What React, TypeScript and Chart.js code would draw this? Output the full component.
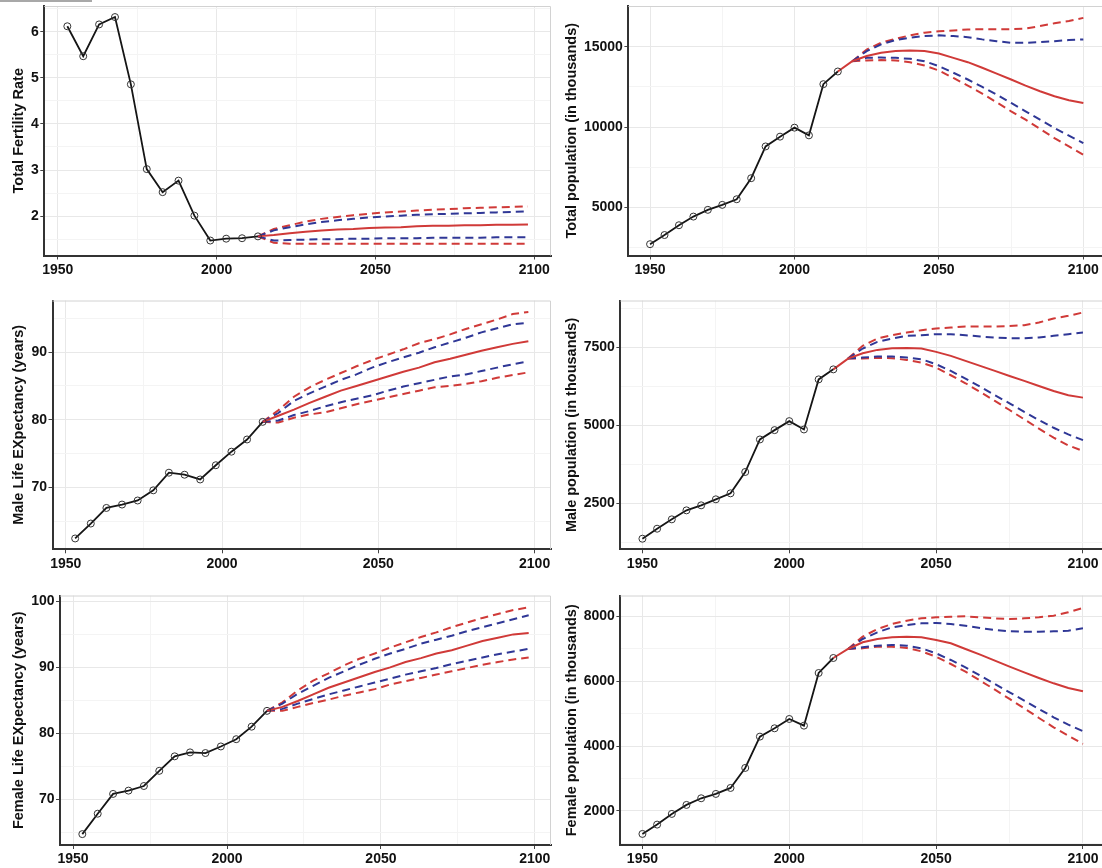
import React, { useEffect, useRef } from 'react';
import { Chart, registerables } from 'chart.js';

Chart.register(...registerables);

// years
const obsYearsLE = [1953, 1958, 1963, 1968, 1973, 1978, 1983, 1988, 1993, 1998, 2003, 2008, 2013];
const projYearsLE = [2013, 2018, 2023, 2028, 2033, 2038, 2043, 2048, 2053, 2058, 2063, 2068, 2073, 2078, 2083, 2088, 2093, 2098];
const obsYearsPop = [1950, 1955, 1960, 1965, 1970, 1975, 1980, 1985, 1990, 1995, 2000, 2005, 2010, 2015];
const medYearsPop = [2015, 2020, 2025, 2030, 2035, 2040, 2045, 2050, 2055, 2060, 2065, 2070, 2075, 2080, 2085, 2090, 2095, 2100];
const piYearsPop = [2020, 2025, 2030, 2035, 2040, 2045, 2050, 2055, 2060, 2065, 2070, 2075, 2080, 2085, 2090, 2095, 2100];

// total fertility rate
const tfrObs = [6.12, 5.47, 6.16, 6.32, 4.86, 3.02, 2.52, 2.77, 2.01, 1.47, 1.51, 1.52, 1.56];
const tfrMedian = [1.56, 1.59, 1.63, 1.66, 1.69, 1.71, 1.72, 1.74, 1.75, 1.76, 1.78, 1.79, 1.79, 1.80, 1.80, 1.81, 1.81, 1.82];
const tfrHi95 = [1.56, 1.72, 1.80, 1.88, 1.94, 1.98, 2.02, 2.05, 2.08, 2.10, 2.12, 2.14, 2.15, 2.17, 2.18, 2.19, 2.20, 2.21];
const tfrHi80 = [1.56, 1.69, 1.76, 1.82, 1.87, 1.91, 1.94, 1.97, 1.99, 2.01, 2.03, 2.04, 2.05, 2.06, 2.07, 2.08, 2.09, 2.10];
const tfrLo80 = [1.56, 1.47, 1.48, 1.49, 1.50, 1.50, 1.51, 1.51, 1.52, 1.52, 1.52, 1.53, 1.53, 1.53, 1.53, 1.54, 1.54, 1.54];
const tfrLo95 = [1.56, 1.42, 1.40, 1.40, 1.40, 1.40, 1.40, 1.40, 1.40, 1.40, 1.40, 1.40, 1.40, 1.40, 1.40, 1.40, 1.40, 1.40];

// male life expectancy
const maleLeObs = [62.5, 64.7, 67.0, 67.5, 68.1, 69.6, 72.2, 71.9, 71.2, 73.3, 75.3, 77.1, 79.7];
const maleLeMedian = [79.7, 80.6, 81.5, 82.5, 83.4, 84.3, 85.0, 85.7, 86.4, 87.1, 87.7, 88.5, 89.0, 89.6, 90.2, 90.7, 91.2, 91.6];
const maleLeHi95 = [79.7, 81.4, 83.4, 84.8, 85.9, 86.9, 87.9, 88.8, 89.6, 90.4, 91.3, 91.9, 92.6, 93.4, 94.1, 94.8, 95.6, 95.9];
const maleLeHi80 = [79.7, 81.0, 82.8, 83.9, 84.9, 85.9, 86.7, 87.7, 88.5, 89.2, 89.9, 90.7, 91.4, 92.1, 92.9, 93.5, 94.1, 94.3];
const maleLeLo80 = [79.7, 79.9, 80.7, 81.3, 82.0, 82.6, 83.1, 83.6, 84.3, 84.9, 85.4, 85.9, 86.4, 86.7, 87.2, 87.7, 88.2, 88.6];
const maleLeLo95 = [79.7, 79.6, 80.3, 80.8, 81.1, 81.7, 82.3, 82.8, 83.3, 83.8, 84.3, 84.8, 85.0, 85.3, 85.7, 86.2, 86.6, 87.0];

// female life expectancy
const femLeObs = [64.7, 67.8, 70.8, 71.3, 72.0, 74.3, 76.5, 77.1, 77.0, 78.0, 79.1, 81.0, 83.4];
const femLeMedian = [83.4, 84.0, 84.9, 85.9, 86.9, 87.7, 88.5, 89.3, 90.0, 90.8, 91.4, 92.1, 92.6, 93.3, 94.0, 94.5, 95.0, 95.2];
const femLeHi95 = [83.4, 84.7, 86.5, 88.0, 89.1, 90.3, 91.3, 92.1, 93.0, 93.8, 94.6, 95.3, 96.1, 96.8, 97.5, 98.1, 98.7, 99.1];
const femLeHi80 = [83.4, 84.5, 86.0, 87.2, 88.4, 89.4, 90.4, 91.3, 92.1, 92.8, 93.6, 94.2, 94.8, 95.5, 96.1, 96.7, 97.3, 97.9];
const femLeLo80 = [83.4, 83.7, 84.5, 85.2, 85.9, 86.5, 87.1, 87.7, 88.3, 88.9, 89.4, 89.9, 90.5, 91.0, 91.5, 92.0, 92.4, 92.8];
const femLeLo95 = [83.4, 83.4, 84.0, 84.6, 85.1, 85.7, 86.2, 86.7, 87.4, 87.9, 88.4, 88.9, 89.4, 89.9, 90.4, 90.8, 91.2, 91.5];

// total population (thousands)
const totPopObs = [2700, 3270, 3880, 4420, 4840, 5150, 5500, 6810, 8790, 9400, 9960, 9480, 12670, 13460];
const totPopMedian = [13460, 14100, 14420, 14630, 14730, 14770, 14730, 14580, 14310, 14040, 13690, 13330, 12960, 12580, 12230, 11920, 11670, 11500];
const totPopHi95 = [14100, 14830, 15250, 15500, 15710, 15880, 15960, 16020, 16080, 16090, 16090, 16100, 16130, 16290, 16460, 16600, 16800];
const totPopHi80 = [14100, 14730, 15150, 15420, 15560, 15670, 15710, 15670, 15600, 15460, 15350, 15250, 15250, 15290, 15350, 15420, 15460];
const totPopLo80 = [14100, 14310, 14330, 14310, 14250, 14100, 13790, 13380, 12960, 12500, 12020, 11500, 10980, 10460, 9940, 9460, 9000];
const totPopLo95 = [14100, 14150, 14170, 14150, 14040, 13830, 13520, 13060, 12580, 12080, 11540, 10980, 10460, 9880, 9310, 8790, 8270];

// male population (thousands)
const malePopObs = [1365, 1686, 1986, 2275, 2436, 2629, 2821, 3506, 4550, 4850, 5139, 4871, 6478, 6800];
const malePopMedian = [6800, 7146, 7318, 7425, 7479, 7489, 7468, 7361, 7232, 7071, 6911, 6750, 6589, 6429, 6268, 6107, 5968, 5893];
const malePopHi95 = [7146, 7554, 7789, 7896, 7982, 8057, 8111, 8143, 8175, 8180, 8175, 8190, 8218, 8303, 8432, 8518, 8625];
const malePopHi80 = [7146, 7468, 7682, 7789, 7875, 7896, 7929, 7929, 7896, 7854, 7821, 7800, 7800, 7821, 7875, 7929, 7982];
const malePopLo80 = [7146, 7179, 7211, 7211, 7179, 7125, 6964, 6750, 6504, 6246, 5968, 5711, 5434, 5171, 4925, 4711, 4529];
const malePopLo95 = [7146, 7146, 7168, 7157, 7104, 7018, 6857, 6611, 6354, 6075, 5786, 5496, 5196, 4896, 4607, 4361, 4179];

// female population (thousands)
const femPopObs = [1287, 1575, 1905, 2183, 2388, 2522, 2707, 3325, 4292, 4549, 4837, 4631, 6257, 6720];
const femPopMedian = [6720, 6998, 7204, 7307, 7358, 7379, 7358, 7276, 7173, 6998, 6823, 6638, 6453, 6278, 6103, 5938, 5794, 5691];
const femPopHi95 = [6998, 7379, 7616, 7770, 7873, 7945, 7976, 7996, 8007, 7976, 7945, 7924, 7945, 7976, 8027, 8130, 8264];
const femPopHi80 = [6998, 7307, 7513, 7667, 7739, 7790, 7801, 7770, 7718, 7646, 7585, 7544, 7533, 7533, 7544, 7564, 7636];
const femPopLo80 = [6998, 7050, 7101, 7122, 7101, 7019, 6864, 6659, 6432, 6175, 5918, 5660, 5403, 5146, 4889, 4662, 4457];
const femPopLo95 = [6998, 7019, 7070, 7070, 7029, 6926, 6761, 6535, 6298, 6021, 5743, 5455, 5167, 4868, 4580, 4323, 4066];

// tick labels
const xMajor = [1950, 2000, 2050, 2100];
const xMinor = [1975, 2025, 2075];
const tfrMajor = [2, 3, 4, 5, 6];
const tfrMinor = [1.5, 2.5, 3.5, 4.5, 5.5, 6.5];
const leMaleMajor = [70, 80, 90];
const leMaleMinor = [65, 75, 85, 95];
const leFemMajor = [70, 80, 90, 100];
const leFemMinor = [65, 75, 85, 95];
const totPopMajor = [5000, 10000, 15000];
const totPopMinor = [2500, 7500, 12500, 17500];
const malePopMajor = [2500, 5000, 7500];
const malePopMinor = [1250, 3750, 6250, 8750];
const femPopMajor = [2000, 4000, 6000, 8000];
const femPopMinor = [1000, 3000, 5000, 7000];

const RED = '#d03a38';
const BLUE = '#2f3796';
const FONT = '"Liberation Sans", Arial, sans-serif';

const zip = (xs: number[], ys: number[]) => xs.map((x, i) => ({ x, y: ys[i] }));

const frame = {
  id: 'frame',
  beforeDatasetsDraw(chart: any) {
    const { ctx, chartArea: a } = chart;
    ctx.save();
    ctx.strokeStyle = '#d2d2d2';
    ctx.lineWidth = 1;
    ctx.beginPath();
    ctx.moveTo(a.left, a.top + 0.5);
    ctx.lineTo(a.right - 0.5, a.top + 0.5);
    ctx.lineTo(a.right - 0.5, a.bottom);
    ctx.stroke();
    ctx.restore();
  },
};

type Box = { left: number; top: number; width: number; height: number; pl: number; pt: number; pr: number; pb: number; titleGap: number };

type PanelProps = {
  title: string;
  obsYears: number[];
  obs: number[];
  medYears: number[];
  median: number[];
  piYears: number[];
  hi95: number[];
  hi80: number[];
  lo80: number[];
  lo95: number[];
  xMin: number;
  xMax: number;
  yMin: number;
  yMax: number;
  yMajor: number[];
  yMinor: number[];
  box: Box;
};

function Panel(p: PanelProps) {
  const ref = useRef<HTMLCanvasElement>(null);

  useEffect(() => {
    if (!ref.current) return;
    const b = p.box;
    const yWidth = b.pl - b.left;
    const xHeight = b.top + b.height - b.pb;
    const tickFont = { family: FONT, size: 14, weight: 'bold' as const };

    const dashed = (data: number[], color: string, order: number) => ({
      data: zip(p.piYears, data),
      borderColor: color,
      borderWidth: 2,
      borderDash: [8, 5],
      pointRadius: 0,
      fill: false,
      order,
    });

    const chart = new Chart(ref.current, {
      type: 'line',
      data: {
        datasets: [
          {
            data: zip(p.obsYears, p.obs),
            borderColor: '#151515',
            borderWidth: 1.8,
            pointRadius: 3.5,
            pointBorderWidth: 1,
            pointBorderColor: '#333',
            pointBackgroundColor: 'rgba(0,0,0,0)',
            order: 0,
          },
          {
            data: zip(p.medYears, p.median),
            borderColor: RED,
            borderWidth: 2,
            pointRadius: 0,
            order: 1,
          },
          dashed(p.hi80, BLUE, 2),
          dashed(p.lo80, BLUE, 2),
          dashed(p.hi95, RED, 3),
          dashed(p.lo95, RED, 3),
        ] as any,
      },
      options: {
        animation: false,
        responsive: false,
        maintainAspectRatio: false,
        layout: { padding: { top: b.pt - b.top, right: b.left + b.width - b.pr, left: 0, bottom: 0 } },
        plugins: { legend: { display: false }, tooltip: { enabled: false } },
        scales: {
          x: {
            type: 'linear',
            min: p.xMin,
            max: p.xMax,
            afterBuildTicks: (s: any) => {
              s.ticks = [...xMajor, ...xMinor].sort((a, c) => a - c).map((v) => ({ value: v }));
            },
            afterFit: (s: any) => {
              s.height = xHeight;
              s.paddingLeft = 0;
              s.paddingRight = 0;
            },
            ticks: {
              autoSkip: false,
              maxRotation: 0,
              padding: 2,
              color: '#111',
              font: tickFont,
              callback: (v: any) => (xMajor.includes(v) ? String(v) : ''),
            },
            grid: {
              color: (c: any) => (xMajor.includes(c.tick?.value) ? '#e8e8e8' : '#f4f4f4'),
              tickColor: (c: any) => (xMajor.includes(c.tick?.value) ? '#444' : 'rgba(0,0,0,0)'),
              tickLength: 4,
              lineWidth: 1,
            },
            border: { display: true, color: '#333', width: 2 },
          },
          y: {
            type: 'linear',
            min: p.yMin,
            max: p.yMax,
            afterBuildTicks: (s: any) => {
              s.ticks = [...p.yMajor, ...p.yMinor].sort((a, c) => a - c).map((v) => ({ value: v }));
            },
            afterFit: (s: any) => {
              s.width = yWidth;
              s.paddingTop = 0;
              s.paddingBottom = 0;
            },
            ticks: {
              autoSkip: false,
              padding: 1.5,
              color: '#111',
              font: tickFont,
              callback: (v: any) => (p.yMajor.includes(v) ? String(v) : ''),
            },
            grid: {
              color: (c: any) => (p.yMajor.includes(c.tick?.value) ? '#e8e8e8' : '#f4f4f4'),
              tickColor: (c: any) => (p.yMajor.includes(c.tick?.value) ? '#444' : 'rgba(0,0,0,0)'),
              tickLength: 4,
              lineWidth: 1,
            },
            border: { display: true, color: '#333', width: 2 },
            title: {
              display: true,
              text: p.title,
              color: '#111',
              font: { family: FONT, size: 14.5, weight: 'bold' },
              padding: { top: b.titleGap, bottom: 0 },
            },
          },
        },
      } as any,
      plugins: [frame],
    });

    return () => chart.destroy();
  }, []);

  const b = p.box;
  return (
    <canvas
      ref={ref}
      width={b.width}
      height={b.height}
      style={{ position: 'absolute', left: b.left, top: b.top, width: b.width, height: b.height }}
    />
  );
}

export default function App() {
  return (
    <div style={{ position: 'absolute', left: 0, top: 0, width: 1102, height: 868, overflow: 'hidden', background: '#fff' }}>
      <div style={{ position: 'absolute', left: 0, top: 0, width: 92, height: 2, background: '#a8a8a8' }} />
      <Panel
        title="Total Fertility Rate"
        obsYears={obsYearsLE} obs={tfrObs}
        medYears={projYearsLE} median={tfrMedian}
        piYears={projYearsLE} hi95={tfrHi95} hi80={tfrHi80} lo80={tfrLo80} lo95={tfrLo95}
        xMin={1945.75} xMax={2105.25} yMin={1.145} yMax={6.56}
        yMajor={tfrMajor} yMinor={tfrMinor}
        box={{ left: 0, top: 0, width: 556, height: 288, pl: 44.3, pt: 6, pr: 553, pb: 255.5, titleGap: 10.3 }}
      />
      <Panel
        title="Total population (in thousands)"
        obsYears={obsYearsPop} obs={totPopObs}
        medYears={medYearsPop} median={totPopMedian}
        piYears={piYearsPop} hi95={totPopHi95} hi80={totPopHi80} lo80={totPopLo80} lo95={totPopLo95}
        xMin={1942.5} xMax={2107.5} yMin={1995} yMax={17540}
        yMajor={totPopMajor} yMinor={totPopMinor}
        box={{ left: 550, top: 0, width: 560, height: 288, pl: 628.4, pt: 6, pr: 1105.7, pb: 255.5, titleGap: 13.3 }}
      />
      <Panel
        title="Male Life EXpectancy (years)"
        obsYears={obsYearsLE} obs={maleLeObs}
        medYears={projYearsLE} median={maleLeMedian}
        piYears={projYearsLE} hi95={maleLeHi95} hi80={maleLeHi80} lo80={maleLeLo80} lo95={maleLeLo95}
        xMin={1945.75} xMax={2105.25} yMin={60.9} yMax={97.6}
        yMajor={leMaleMajor} yMinor={leMaleMinor}
        box={{ left: 0, top: 290, width: 556, height: 288, pl: 52.5, pt: 300.5, pr: 553, pb: 549.3, titleGap: 10.3 }}
      />
      <Panel
        title="Male population (in thousands)"
        obsYears={obsYearsPop} obs={malePopObs}
        medYears={medYearsPop} median={malePopMedian}
        piYears={piYearsPop} hi95={malePopHi95} hi80={malePopHi80} lo80={malePopLo80} lo95={malePopLo95}
        xMin={1942.5} xMax={2107.5} yMin={1025} yMax={9010}
        yMajor={malePopMajor} yMinor={malePopMinor}
        box={{ left: 550, top: 290, width: 560, height: 288, pl: 620.4, pt: 300.5, pr: 1106.3, pb: 549.3, titleGap: 13.3 }}
      />
      <Panel
        title="Female Life EXpectancy (years)"
        obsYears={obsYearsLE} obs={femLeObs}
        medYears={projYearsLE} median={femLeMedian}
        piYears={projYearsLE} hi95={femLeHi95} hi80={femLeHi80} lo80={femLeLo80} lo95={femLeLo95}
        xMin={1945.75} xMax={2105.25} yMin={63.05} yMax={100.9}
        yMajor={leFemMajor} yMinor={leFemMinor}
        box={{ left: 0, top: 580, width: 556, height: 288, pl: 60, pt: 595.5, pr: 553, pb: 845, titleGap: 10.3 }}
      />
      <Panel
        title="Female population (in thousands)"
        obsYears={obsYearsPop} obs={femPopObs}
        medYears={medYearsPop} median={femPopMedian}
        piYears={piYearsPop} hi95={femPopHi95} hi80={femPopHi80} lo80={femPopLo80} lo95={femPopLo95}
        xMin={1942.5} xMax={2107.5} yMin={945} yMax={8650}
        yMajor={femPopMajor} yMinor={femPopMinor}
        box={{ left: 550, top: 580, width: 560, height: 288, pl: 620.4, pt: 595.5, pr: 1106.3, pb: 845, titleGap: 13.3 }}
      />
    </div>
  );
}
